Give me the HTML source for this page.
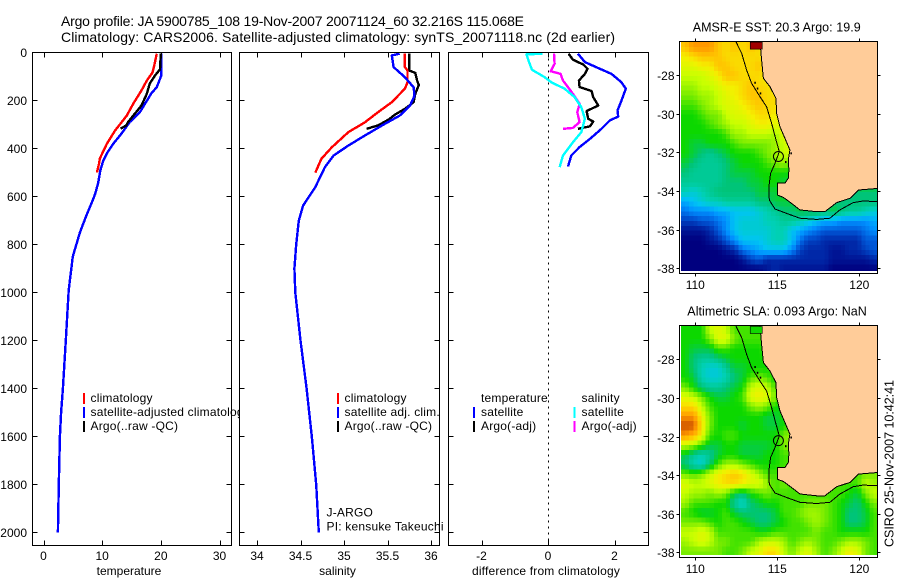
<!DOCTYPE html>
<html>
<head>
<meta charset="utf-8">
<title>Argo profile</title>
<style>
html,body{margin:0;padding:0;background:#fff;}
svg{display:block;font-family:"Liberation Sans",sans-serif;fill:#000;}
text{font-size:12px;}
</style>
</head>
<body>
<svg id="chart" xmlns="http://www.w3.org/2000/svg" width="900" height="580" viewBox="0 0 900 580">
<rect x="0" y="0" width="900" height="580" fill="#fff"/>
<text x="61" y="26" style="font-size:14px" textLength="463">Argo profile: JA 5900785_108 19-Nov-2007 20071124_60 32.216S 115.068E</text>
<text x="61" y="42" style="font-size:14px" textLength="554">Climatology: CARS2006. Satellite-adjusted climatology: synTS_20071118.nc (2d earlier)</text>
<g id="panels"></g>
<g id="maps"></g>
<text x="692.7" y="31.5" style="font-size:12.5px" textLength="168">AMSR-E SST: 20.3 Argo: 19.9</text>
<text x="687.3" y="315.5" style="font-size:12.5px" textLength="179.5">Altimetric SLA: 0.093 Argo: NaN</text>
<text transform="translate(893.5,547) rotate(-90)" style="font-size:12.5px" textLength="167">CSIRO 25-Nov-2007 10:42:41</text>
</svg>
<script>
// ---- profile data (depth in m, values in data units) ----
const depthTicks = [0,200,400,600,800,1000,1200,1400,1600,1800,2000];
const tempTicks = [0,10,20,30];
const salTicks = [34,34.5,35,35.5,36];
const diffTicks = [-2,0,2];

const tempClimDepth = [5,40,83,117,158,213,263,325,380,442,460,500];
const tempClimValue = [19.3,19.0,18.6,17.6,16.7,15.3,14.2,12.2,10.8,9.6,9.5,9.1];
const tempSatDepth = [5,95,145,170,250,290,338,380,420,450,490,545,590,615,680,750,850,990,1200,1400,1500,1600,1800,2000];
const tempSatValue = [20.1,20.1,19.3,18.4,16.4,14.7,13.3,11.9,10.8,10.2,9.7,9.3,8.8,8.4,7.3,6.2,5.0,4.3,3.8,3.3,3.0,2.8,2.6,2.45];
const tempArgoDepth = [5,70,96,130,172,221,263,290,304,317];
const tempArgoValue = [20,19.85,19,18.1,17.6,16.7,15.3,14.4,14.1,13.15];

const salClimDepth = [5,61,75,124,151,207,249,291,332,395,443,501];
const salClimValue = [35.70,35.70,35.73,35.73,35.70,35.55,35.39,35.24,35.05,34.86,34.74,34.67];
const salSatDepth = [5,12,61,103,145,180,221,263,297,346,388,429,478,561,638,700,800,900,1000,1200,1400,1600,1800,2000];
const salSatValue = [35.64,35.55,35.57,35.70,35.80,35.81,35.76,35.64,35.47,35.24,35.05,34.88,34.78,34.67,34.53,34.48,34.45,34.43,34.44,34.50,34.57,34.63,34.68,34.71];
const salArgoDepth = [5,75,85,117,135,172,207,235,258,280,304,318];
const salArgoValue = [35.75,35.75,35.82,35.84,35.86,35.82,35.80,35.70,35.59,35.51,35.39,35.26];

const diffTempSatDepth = [5,40,68,89,124,151,200,242,267,283,318,360,394,429,475];
const diffTempSatValue = [0.90,1.11,1.56,1.91,2.21,2.34,2.21,2.09,2.11,1.86,1.61,1.26,0.95,0.70,0.60];
const diffTempArgoDepth = [5,30,50,68,89,117,144,161,186,221,244,276,288,308,318];
const diffTempArgoValue = [0.62,0.75,1.06,1.19,1.11,0.93,0.95,1.31,1.36,1.51,1.16,1.21,1.36,1.26,0.90];
const diffSalSatDepth = [5,8,47,72,103,124,151,186,228,276,332,374,429,478];
const diffSalSatValue = [-0.17,-0.65,-0.55,-0.48,-0.10,0.10,0.50,0.80,1.0,1.11,1.0,0.75,0.45,0.35];
const diffSalArgoDepth = [5,47,78,89,117,144,172,214,249,290,314,318];
const diffSalArgoValue = [0.18,0.20,0.08,0.38,0.45,0.60,0.75,0.95,0.88,0.95,0.75,0.45];

// ---- map data: colour-scale level per 0.5 degree cell, north to south; short rows end at land ----
const mapLonTicks = [110,115,120];
const mapLatTicks = [-28,-30,-32,-34,-36,-38];
const sstRows = [
[11,12,12,12,11,10.5,11,10.5,11,10.5,10],
[10,10.5,11,11,11,10.5,10.5,10.5,10.5,10.5,10],
[9.5,9.5,10,10,11,11,10.5,10.5,10.5,11,10.5,10],
[9,9,9,9.5,10,11,11,10.5,10.5,10.5,10,10],
[8.5,8.5,9,9,9.5,10,10,10.5,11,10.5,10.5,10,10],
[8,8,8.5,8.5,9,9.5,10,10.5,11,11,10.5,10.5,10],
[7.5,7.5,8,8.5,9,9.5,9.5,10,10.5,11,10.5,10.5,10,10],
[7,7,7.5,8,8,9,9.5,9.5,10,10.5,10.5,10,10.5,10],
[7,7,7,7.5,8,8.5,9,9,9.5,10,10,9.5,10,10],
[7,7,7,7,7,7.5,8.5,8.5,9,9,9,8.5,9.5,10,10],
[7,6.5,6.5,7,7,7,7.5,8,8,8,8,8.5,9,9.5,10],
[7,6.5,6,5.5,6,6.5,7,7,7,7.5,8,8.5,9,9.5,9.5],
[6.5,6,5.5,5.5,5.5,6,6.5,7,7,7,7.5,8,8.5,7.5,7.5],
[6,5.5,5.5,5.5,5.5,6,6.5,6.5,6.5,7,7,7,7,7,7],
[5.5,5.5,5.5,5.5,5.5,6,6,6,6.5,6.5,7,7,6.5,6.5,7],
[5,4.5,5,5.5,6,6,6,6,6,6.5,6.5,6.5,7,6.5,6.5,6,6,6,6,6,6,6,6,6],
[3.5,4,4.5,5,5,5.5,5.5,5.5,5.5,6,6,6.5,6.5,6.5,6.5,6,6,6,6,6,6,6,6,6],
[2.5,3,3,3,3.5,3.5,4,4,4,4.5,5,5.5,6,6,6.5,6.5,6.5,6,6.5,6,5.5,5.5,5,4.5],
[1.5,1.5,2,2,2.5,3,4,4.5,4.5,4.5,5,5,5.5,5.5,5,4.5,4,3.5,3.5,3,3,3,3,3.5],
[0.5,0.5,0.5,1,2,3,4,4.5,4.5,4.5,4.5,5,5,4,3.5,3,2.5,2,2,2,2,2,2.5,3],
[0,0,0,0.5,1,2,3,4,4,4,4.5,5,5,4,2.5,1.5,1.5,1,1,1,1,1,2,2],
[0,0,0,0,0,0.5,1,2.5,3,3.5,4,4,4,3,1.5,1,1,1,0.5,0.5,1,1,1.5,2],
[0,0,0,0,0,0,0,0.5,1.5,2,1,1,1,1,1,1,1,1,0.5,0.5,0.5,0.5,0.5,1],
[0,0,0,0,0,0,0,0,0,0,0.5,1,0.5,0.5,0.5,0.5,0.5,0.5,0,0,0,0,0,0]
];
const slaRows = [
[7,7,7,9,9.5,9,7.5,7.5,7.5,7.5,7.5],
[7,7,7,8,9.5,9.5,8,7.5,7.5,7.5,7.5],
[7,6.5,6.5,6.5,7.5,7.5,7,7,7,7,7.5,7.5],
[7,6,5.5,5.5,6,6.5,7,7,7,7,7,7.5],
[7,6,5,4.5,4.5,5.5,6.5,6.5,7,7,7,7.5,7.5],
[7,6.5,5,4.5,4.5,5,6,6.5,7.5,8,7.5,7,7.5],
[8,7,6,5.5,5.5,6,6.5,7,9,9.5,9,7.5,7,7.5],
[9.5,9,8,7,6.5,6.5,7,7.5,9.5,10,9.5,8,7.5,7.5],
[10.5,10.5,9,7.5,7,7,7,7,8,8.5,8,7,7,7.5,7.5],
[12,12,10,8,7,7,7,7,7,7,6.5,6.5,7,7.5,7.5],
[13,13,10.5,8,7,7,7,6.5,7,7,6.5,6.5,7,7.5,7.5],
[12,11.5,10,7.5,7,7.5,7.5,7,7,7,7,7,8,8.5,7.5],
[9,8.5,7.5,6.5,6.5,7,7,6.5,6.5,6.5,6.5,7,8,8.5,7.5],
[6.5,5.5,5,5.5,6.5,7,7,6.5,6.5,6.5,7,7,7.5,7.5,7.5],
[6,5,4.5,6,7.5,8.5,8.5,8,7.5,7,7,7,7.5,7.5,7.5],
[8,7.5,8,9,10,10.5,11,10.5,9.5,8.5,7.5,7.5,7.5,7.5,7.5,7.5,7.5,7.5,7.5,7.5,7.5,7.5,8,8],
[9.5,9,9,9.5,10,10.5,10.5,10,9.5,9.5,8.5,7.5,8,7.5,7.5,7.5,7.5,7.5,7.5,7.5,7.5,7.5,9,8.5],
[9,8.5,8.5,8,8.5,8,6.5,6,7,7.5,8,7.5,7.5,7.5,7.5,7.5,7.5,7.5,7.5,7.5,7,6.5,8,9],
[8.5,7.5,7.5,7.5,7,7,5.5,4.5,6,6.5,7,7,7.5,7.5,7.5,8,8,8,7.5,7,6.5,6,7,8],
[7.5,7,6.5,6.5,7,7.5,6.5,6,6,6,6,6.5,7.5,7.5,8,8.5,8.5,8,7.5,7,6,6,6.5,7.5],
[8,8,8,7.5,7,7.5,7.5,7,6.5,6,6,6.5,7,7.5,7.5,8,8.5,8,7.5,7,6,6,6.5,7.5],
[9,9,9.5,9,7.5,7.5,7.5,7.5,7.5,7,7,7.5,7.5,7.5,7.5,7.5,8,7.5,7.5,7,7,7,7,7.5],
[8.5,9,9.5,9,8,8,7.5,7.5,7.5,8.5,9,9,8.5,7.5,8,8.5,8,7.5,7.5,8,8.5,8.5,8,7.5],
[8,8,8,8,8,7.5,7.5,8,9,9.5,10.5,10.5,9,8,9,9.5,8.5,7.5,8,9,10,9.5,8,7.5]
];
// coast and 200 m isobath, as lon / lat
const coastLon = [113.94,114.04,114.15,114.55,114.92,114.96,115.16,115.47,115.77,115.67,115.71,115.67,115.47,115.0,115.0,115.37,115.87,116.38,117.4,117.9,118.62,119.43,119.94,121.2,121.2];
const coastLat = [-26.2,-27.22,-28.17,-28.6,-29.21,-29.98,-30.67,-31.28,-31.88,-32.4,-32.91,-33.34,-33.6,-33.6,-34.21,-34.33,-34.64,-34.98,-35.07,-35.07,-34.6,-34.38,-33.95,-33.86,-26.2];
const isoLon = [112.48,112.83,113.13,113.43,113.94,114.35,114.65,114.92,115.12,114.86,114.59,114.49,114.51,114.86,115.57,116.38,117.4,118.21,118.82,119.63,120.24,121.1];
const isoLat = [-26.28,-26.88,-27.74,-28.43,-29.12,-29.64,-30.5,-31.36,-31.97,-32.57,-33.09,-33.78,-34.47,-34.93,-35.16,-35.41,-35.47,-35.41,-34.98,-34.6,-34.52,-34.55];
const isletLon = [113.6,113.75,113.93,115.47,115.8];
const isletLat = [-28.35,-28.65,-28.9,-32.45,-32.0];
const profileLon = [115.068];
const profileLat = [-32.216];

const SVGNS = 'http://www.w3.org/2000/svg';
const panelsRoot = document.getElementById('panels');
const mapsRoot = document.getElementById('maps');

function mk(tag, attrs, parent, txt){
  const el = document.createElementNS(SVGNS, tag);
  for (const k in attrs) el.setAttribute(k, attrs[k]);
  if (txt !== undefined) el.textContent = txt;
  parent.appendChild(el);
  return el;
}
function linear(d0, d1, r0, r1){ return v => r0 + (v - d0) * (r1 - r0) / (d1 - d0); }

// ---- profile panels ----
const PTOP = 52.5, PBOT = 545.5;
const depthY = linear(0, 2000, 52.5, 532.5);

function drawSeries(parent, name, xs, depths, xf, color){
  const pts = depths.map((d, i) => xf(xs[i]).toFixed(1) + ',' + depthY(d).toFixed(1)).join(' ');
  const line = mk('polyline', {points: pts, fill: 'none', stroke: color, 'stroke-width': 2.4, 'shape-rendering': 'crispEdges', 'stroke-linejoin': 'round'}, parent);
  
  
}

function drawPanel(name, x0, x1, xf, xTicks, xTitle, titleX, withDepthLabels){
  const g = mk('g', {}, panelsRoot);
  
  
  const bg = mk('rect', {x: x0, y: PTOP, width: x1 - x0, height: PBOT - PTOP, fill: '#fff'}, g);
  
  
  xTicks.forEach(t => {
    const x = Math.round(xf(t)) + 0.5;
    const bt = mk('path', {d: `M${x} ${PBOT}V${PBOT-5}M${x} ${PTOP}V${PTOP+5}`, stroke: '#000', 'stroke-width': 1, fill: 'none'}, g);
    
    
    const lb = mk('text', {x: xf(t), y: 560, 'text-anchor': 'middle'}, g, String(t));
    
    
  });
  depthTicks.forEach(d => {
    const y = Math.round(depthY(d) - 0.5) + 0.5;
    const tk = mk('path', {d: `M${x0} ${y}H${x0+5}M${x1} ${y}H${x1-5}`, stroke: '#000', 'stroke-width': 1, fill: 'none'}, g);
    
    
    if (withDepthLabels) {
      const lb = mk('text', {x: 27, y: y + 4.5, 'text-anchor': 'end'}, g, String(d));
      
      
    }
  });
  const t = mk('text', {x: titleX, y: 575, 'text-anchor': 'middle', 'letter-spacing': xTitle.length > 20 ? '0.18' : '0'}, g, xTitle);
  
  
  return {g, x0, x1};
}
function frame(p){
  const r = mk('rect', {x: p.x0, y: PTOP, width: p.x1 - p.x0, height: PBOT - PTOP, fill: 'none', stroke: '#000', 'stroke-width': 1}, p.g);
  
  
}
function legend(g, swatchX, textX, entries){
  entries.forEach(e => {
    if (e.color) {
      const s = mk('rect', {x: swatchX, y: e.y - 9, width: 2, height: 11, fill: e.color}, g);
      
      
    }
    const t = mk('text', {x: textX, y: e.y, 'letter-spacing': '0.2'}, g, e.label);
    
    
  });
}

const tempX = linear(0, 30, 43.5, 219.5);
const salX = linear(34, 36, 257, 431);
const diffX = linear(-2, 2, 481.5, 614.5);

const p1 = drawPanel('temperature-panel', 32.5, 231.5, tempX, tempTicks, 'temperature', 129, true);
drawSeries(p1.g, 'temperature-climatology-line', tempClimValue, tempClimDepth, tempX, '#f00');
drawSeries(p1.g, 'temperature-satellite-line', tempSatValue, tempSatDepth, tempX, '#00f');
drawSeries(p1.g, 'temperature-argo-line', tempArgoValue, tempArgoDepth, tempX, '#000');
frame(p1);
legend(p1.g, 83, 90.5, [
  {label:'climatology', color:'#f00', y:402},
  {label:'satellite-adjusted climatology', color:'#00f', y:416},
  {label:'Argo(..raw -QC)', color:'#000', y:430}
]);

const p2 = drawPanel('salinity-panel', 239.5, 439.5, salX, salTicks, 'salinity', 337.5, false);
drawSeries(p2.g, 'salinity-argo-line', salArgoValue, salArgoDepth, salX, '#000');
drawSeries(p2.g, 'salinity-climatology-line', salClimValue, salClimDepth, salX, '#f00');
drawSeries(p2.g, 'salinity-satellite-line', salSatValue, salSatDepth, salX, '#00f');
frame(p2);
legend(p2.g, 337, 344.5, [
  {label:'climatology', color:'#f00', y:402},
  {label:'satellite adj. clim.', color:'#00f', y:416},
  {label:'Argo(..raw -QC)', color:'#000', y:430}
]);
legend(p2.g, 337, 326.5, [
  {label:'J-ARGO', y:516.5},
  {label:'PI: kensuke Takeuchi', y:530.5}
]);

const p3 = drawPanel('difference-panel', 448.5, 648.5, diffX, diffTicks, 'difference from climatology', 546, false);
const zeroLine = mk('line', {x1: 548.5, x2: 548.5, y1: PTOP, y2: PBOT, stroke: '#000', 'stroke-width': 1, 'stroke-dasharray': '2 4'}, p3.g);


drawSeries(p3.g, 'difference-temperature-satellite-line', diffTempSatValue, diffTempSatDepth, diffX, '#00f');
drawSeries(p3.g, 'difference-temperature-argo-line', diffTempArgoValue, diffTempArgoDepth, diffX, '#000');
drawSeries(p3.g, 'difference-salinity-argo-line', diffSalArgoValue, diffSalArgoDepth, diffX, '#f0f');
drawSeries(p3.g, 'difference-salinity-satellite-line', diffSalSatValue, diffSalSatDepth, diffX, '#0ff');
frame(p3);
legend(p3.g, 473, 481, [
  {label:'temperature', y:402},
  {label:'satellite', color:'#00f', y:416},
  {label:'Argo(-adj)', color:'#000', y:430}
]);
legend(p3.g, 573.5, 581.5, [
  {label:'salinity', y:402},
  {label:'satellite', color:'#0ff', y:416},
  {label:'Argo(-adj)', color:'#f0f', y:430}
]);

// ---- maps ----
const colorStops = ['#00007f','#0028a8','#0058d8','#0090ff','#00c4f4','#00d0b4','#00c478','#0cd800','#78ec00','#c8ff00','#f4f000','#ffc400','#ff9800','#cc5000','#900000'];
function levelColor(v){
  const i = Math.max(0, Math.min(colorStops.length - 1, v));
  const a = Math.floor(i), b = Math.min(colorStops.length - 1, a + 1), f = i - a;
  const ch = s => [1,3,5].map(k => parseInt(s.substr(k,2),16));
  const A = ch(colorStops[a]), B = ch(colorStops[b]);
  return 'rgb(' + A.map((c,k) => Math.round(c + (B[k]-c)*f)).join(',') + ')';
}
// display at the 0.25 degree pixel size of the map: each sub-cell is read bilinearly from the rows
function sampleRows(rows, fr, fc){
  const pick = (r, c) => {
    const row = rows[Math.max(0, Math.min(rows.length - 1, r))];
    return row[Math.max(0, Math.min(row.length - 1, c))];
  };
  const r0 = Math.floor(fr), c0 = Math.floor(fc), tr = fr - r0, tc = fc - c0;
  const top = pick(r0, c0) * (1 - tc) + pick(r0, c0 + 1) * tc;
  const bot = pick(r0 + 1, c0) * (1 - tc) + pick(r0 + 1, c0 + 1) * tc;
  return top * (1 - tr) + bot * tr;
}
function drawMap(name, rows, cfg){
  const lonX = linear(110, 120, 695.3, 859.3);
  const latY = linear(-28, -38, cfg.y28, cfg.y38);
  const g = mk('g', {}, mapsRoot);
  
  
  const clipId = name + '-clip';
  const defs = mk('defs', {}, g);
  const cp = mk('clipPath', {id: clipId}, defs);
  mk('rect', {x: 681, y: cfg.top, width: 196.5, height: cfg.bot - cfg.top}, cp);
  const plot = mk('g', {'clip-path': `url(#${clipId})`}, g);
  for (let r = 0; r < rows.length * 2; r++) {
    for (let c = 0; c < 48; c++) {
      const coarseRow = rows[Math.floor(r / 2)];
      if (c > (coarseRow.length + 1) * 2) continue;
      const lon0 = 109.13 + c * 0.25, lat0 = cfg.latStart - r * 0.25;
      const x = lonX(lon0), y = latY(lat0);
      const v = sampleRows(rows, (r - 0.5) / 2, (c - 0.5) / 2);
      const cell = mk('rect', {x: x.toFixed(2), y: y.toFixed(2), width: (lonX(lon0 + 0.25) - x + 0.4).toFixed(2), height: (latY(lat0 - 0.25) - y + 0.4).toFixed(2), fill: levelColor(v), 'shape-rendering': 'crispEdges'}, plot);
      
      
    }
  }
  const land = mk('polygon', {points: coastLon.map((lo,i) => lonX(lo).toFixed(1) + ',' + latY(coastLat[i]).toFixed(1)).join(' '), fill: '#ffcc99', stroke: '#000', 'stroke-width': 1, 'shape-rendering': 'crispEdges'}, plot);
  
  
  const iso = mk('polyline', {points: isoLon.map((lo,i) => lonX(lo).toFixed(1) + ',' + latY(isoLat[i]).toFixed(1)).join(' '), fill: 'none', stroke: '#000', 'stroke-width': 1, 'shape-rendering': 'crispEdges'}, plot);
  
  
  isletLon.forEach((lo, i) => {
    const dot = mk('rect', {x: lonX(lo), y: latY(isletLat[i]), width: 1.5, height: 2, fill: '#000'}, plot);
    
    
  });
  const island = mk('rect', {x: lonX(113.35), y: latY(-26.3), width: 12, height: 7, fill: cfg.island, stroke: '#000', 'stroke-width': 0.6}, plot);
  
  
  const marker = mk('circle', {cx: lonX(profileLon[0]), cy: latY(profileLat[0]), r: 5, fill: 'none', stroke: '#000', 'stroke-width': 1}, plot);
  
  
  const f = mk('rect', {x: 679.5, y: cfg.boxTop, width: 198, height: cfg.boxBot - cfg.boxTop, fill: 'none', stroke: '#000', 'stroke-width': 1}, g);
  
  
  mapLonTicks.forEach(t => {
    const x = Math.round(lonX(t)) + 0.5;
    const tk = mk('path', {d: `M${x} ${cfg.boxTop}v-3M${x} ${cfg.boxBot}v3`, stroke: '#000', fill: 'none'}, g);
    
    
    const lb = mk('text', {x: lonX(t), y: cfg.labelY, 'text-anchor': 'middle'}, g, String(t));
    
    
  });
  mapLatTicks.forEach(t => {
    const y = Math.round(latY(t)) + 0.5;
    const tk = mk('path', {d: `M679.5 ${y}h-3M877.5 ${y}h3`, stroke: '#000', fill: 'none'}, g);
    
    
    const lb = mk('text', {x: 674.5, y: y + 4.5, 'text-anchor': 'end'}, g, String(t));
    
    
  });
}
drawMap('sst-map', sstRows, {y28:75, y38:268.3, top:41.7, bot:271, boxTop:41.5, boxBot:273.5, labelY:289, latStart:-26.3, island:'#a00000'});
drawMap('sla-map', slaRows, {y28:359.3, y38:552.3, top:325, bot:555, boxTop:325.5, boxBot:557.5, labelY:573, latStart:-26.2, island:'#10d800'});
</script>
</body>
</html>
